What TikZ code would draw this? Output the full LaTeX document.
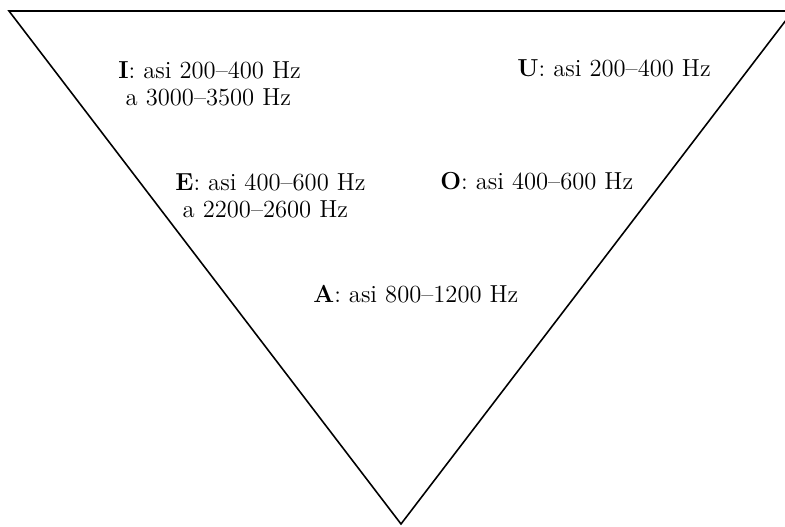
\documentclass[tikz,border=0pt]{standalone}
\usepackage{tikz}
\usetikzlibrary{positioning}
\tikzset{
  % vowel labels
  vowel/.style={anchor=west, align=left, inner sep=0pt, font=\fontsize{14}{15.6}\selectfont},
  edge/.style={line width=0.9pt, line join=miter},
}

\begin{document}
\begin{tikzpicture}[x=0.02cm, y=-0.02cm]
    % frame
    \useasboundingbox (0,0) rectangle (785,527);
    \clip (0,0) rectangle (785,527);

    % triangle
    \coordinate (tl) at (9,11);
    \coordinate (tr) at (793,11);
    \coordinate (bot) at (401,524);
    \draw[edge] (tl) -- (tr) -- (bot) -- cycle;

    % vowels
    \node[vowel] (vI) at (118,84) {\textbf{I}: asi 200--400 Hz\\\hspace{0.3em}a 3000--3500 Hz};
    \node[vowel] (vU) at (517,68) {\textbf{U}: asi 200--400 Hz};
    \node[vowel] (vE) at (175,196) {\textbf{E}: asi 400--600 Hz\\\hspace{0.3em}a 2200--2600 Hz};
    \node[vowel] (vO) at (440,181) {\textbf{O}: asi 400--600 Hz};
    \node[vowel] (vA) at (313,294) {\textbf{A}: asi 800--1200 Hz};
\end{tikzpicture}
\end{document}
